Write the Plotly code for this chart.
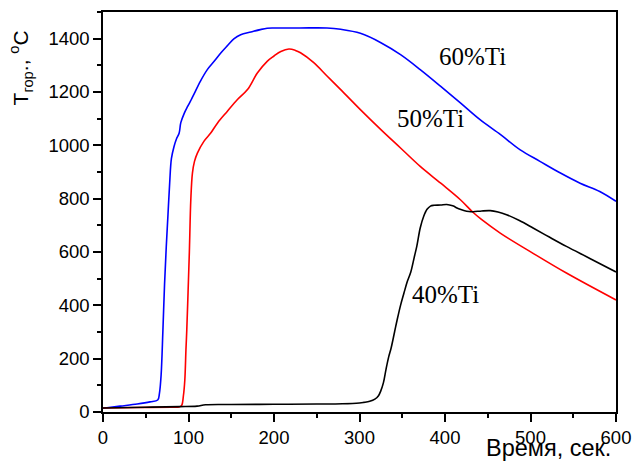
import plotly.graph_objects as go

# 60%Ti (blue)
x60 = [0, 20, 40, 55, 64, 66, 68, 70, 72, 74, 76, 78, 80, 83, 86, 89, 91, 95, 99, 103, 107, 114, 122, 130,
       138, 145, 153, 161, 173, 184, 192, 200, 230, 262, 278, 301, 325, 348, 371, 395, 418, 441,
       465, 488, 511, 535, 558, 581, 600]
y60 = [14, 22, 30, 38, 45, 70, 140, 300, 480, 620, 740, 860, 950, 995, 1025, 1045, 1085, 1120, 1146,
       1170, 1196, 1241, 1284, 1315, 1347, 1372, 1399, 1415, 1425, 1434, 1439, 1440, 1440, 1440, 1435,
       1420, 1385, 1340, 1284, 1221, 1159, 1096, 1040, 983, 940, 896, 858, 827, 790]

# 50%Ti (red)
x50 = [0, 40, 80, 89, 92, 94, 95.7, 97, 98, 99.5, 101, 102.7, 104.6, 107, 110.4, 118, 126, 134, 145.5,
       157, 169, 180.5, 192, 200, 208, 217.5, 225, 231, 246.5, 262, 278, 301, 325, 348, 371, 395, 418,
       433, 443, 465, 503, 542, 600]
y50 = [15, 17, 18, 19, 25, 60, 120, 233, 308, 450, 600, 796, 896, 940, 971, 1015, 1046, 1084, 1128,
       1171, 1209, 1271, 1315, 1335, 1352, 1361, 1356, 1347, 1310, 1260, 1209, 1134, 1059, 990, 921,
       858, 796, 748, 721, 670, 595, 521, 420]

# 40%Ti (black)
x40 = [0, 50, 90, 110, 120, 150, 200, 250, 280, 300, 305, 312, 318, 322, 325, 328, 331, 334, 337, 341,
       344, 348, 352, 356, 360, 364, 367, 371, 375, 379, 383, 387, 395, 402, 409, 416, 422, 428, 433,
       443, 453, 462, 472, 487, 503, 522, 542, 570, 600]
y40 = [15, 18, 20, 22, 27, 28, 29, 30, 31, 34, 36, 40, 48, 60, 80, 110, 160, 205, 240, 300, 345, 400,
       446, 490, 525, 580, 621, 690, 733, 760, 772, 775, 776, 778, 773, 762, 756, 752, 751, 754, 755,
       750, 740, 718, 690, 656, 621, 575, 525]

labels = ["60%Ti", "50%Ti", "40%Ti"]
label_x = [432, 383, 401]
label_y = [1335, 1102, 442]

fig = go.Figure()
for xs, ys, col in [(x60, y60, "#0000FF"), (x50, y50, "#FF0000"), (x40, y40, "#000000")]:
    fig.add_trace(go.Scatter(x=xs, y=ys, mode="lines", line=dict(color=col, width=1.6),
                             line_shape="spline", showlegend=False))

for t, lx, ly in zip(labels, label_x, label_y):
    fig.add_annotation(x=lx, y=ly, text=t, showarrow=False,
                       font=dict(family="Liberation Serif", size=25, color="black"))

axis_common = dict(showline=True, linecolor="black", linewidth=1.5, mirror=True, showgrid=False,
                   zeroline=False, ticks="outside", ticklen=8, tickwidth=1.5, tickcolor="black",
                   automargin=False,
                   tickfont=dict(family="Liberation Sans", size=18.5, color="black"))

fig.update_xaxes(range=[0, 600], tickvals=[0, 100, 200, 300, 400, 500, 600],
                 minor=dict(dtick=50, ticks="outside", ticklen=4, tickwidth=1.5, tickcolor="black"),
                 **axis_common)
fig.update_yaxes(range=[0, 1500], tickvals=[0, 200, 400, 600, 800, 1000, 1200, 1400],
                 minor=dict(dtick=100, ticks="outside", ticklen=4, tickwidth=1.5, tickcolor="black"),
                 **axis_common)

fig.add_annotation(xref="paper", yref="paper", x=0.995, y=-0.09, xanchor="right", yanchor="middle",
                   text="Время, сек.", showarrow=False,
                   font=dict(family="Liberation Sans", size=23.5, color="black"))
fig.add_annotation(xref="paper", yref="paper", x=-0.161, y=0.86, xanchor="center", yanchor="middle",
                   text="T<sub>гор</sub>., <sup>o</sup>C", textangle=-90, showarrow=False,
                   font=dict(family="Liberation Sans", size=21, color="black"))

fig.update_layout(width=634, height=466, margin=dict(l=103, r=18, t=12, b=54),
                  paper_bgcolor="white", plot_bgcolor="white", autosize=False)

fig.write_html("out.html", config={"responsive": False, "displayModeBar": False},
               post_script="document.body.style.margin='0';document.body.style.overflow='hidden';")
